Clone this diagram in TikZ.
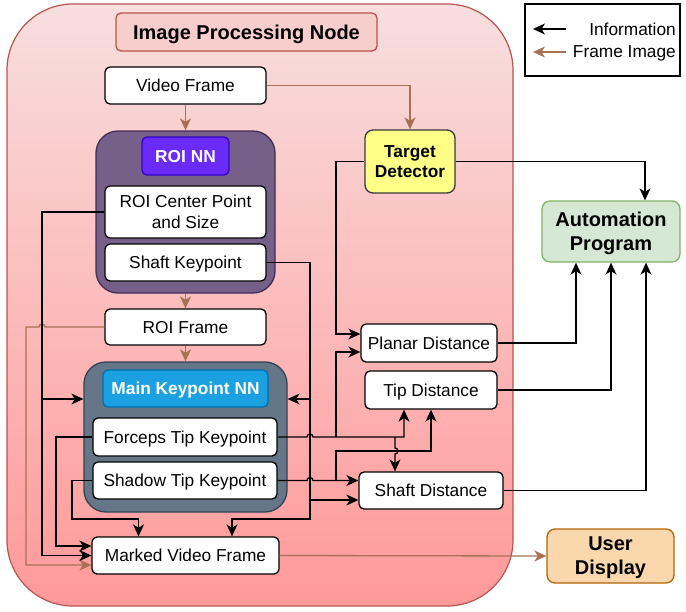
\documentclass[tikz,border=0pt]{standalone}
\usepackage{fontspec}
\setmainfont{Liberation Sans}
\usepackage{tikz}
\usetikzlibrary{arrows.meta, positioning}
\usepackage[dvipsnames, svgnames, x11names]{xcolor}

\definecolor{ipnline}{HTML}{B85450}
\definecolor{ipntop}{HTML}{F8DEDE}
\definecolor{ipnbot}{HTML}{FF9999}
\definecolor{ipntitle}{HTML}{F8CECC}
\definecolor{roifill}{HTML}{76608A}
\definecolor{roiline}{HTML}{432D57}
\definecolor{roilbl}{HTML}{6A2AF8}
\definecolor{roilblline}{HTML}{3700CC}
\definecolor{mainfill}{HTML}{647687}
\definecolor{mainline}{HTML}{314354}
\definecolor{mainlbl}{HTML}{1BA1E2}
\definecolor{mainlblline}{HTML}{006EAF}
\definecolor{tgtfill}{HTML}{FFFF88}
\definecolor{tgtline}{HTML}{36393D}
\definecolor{autofill}{HTML}{D5E8D4}
\definecolor{autoline}{HTML}{82B366}
\definecolor{userfill}{HTML}{FAD7AC}
\definecolor{userline}{HTML}{B46504}
\definecolor{framecol}{RGB}{168,112,84}

\tikzset{
	box/.style={draw=black, fill=white, line width=1.3pt, rounded corners=5pt, align=center, inner sep=0pt, text depth=0pt, font=\fontsize{17.3}{20.8}\selectfont},
	boldbox/.style={box, font=\fontsize{17.3}{20}\selectfont\bfseries},
	bigbox/.style={box, rounded corners=8pt, font=\fontsize{20}{24}\selectfont\bfseries},
	lgtext/.style={anchor=east, inner sep=0pt, text depth=0pt, font=\fontsize{17.3}{20}\selectfont},
	info/.style={draw=black, line width=1.3pt, ->},
	frame/.style={draw=framecol, line width=1.3pt, ->},
}

\begin{document}
\begin{tikzpicture}[x=1pt, y=-1pt, >={Stealth[length=12pt, width=11pt, inset=3.5pt]}]
		\useasboundingbox (0,0) rectangle (686,611);
		
		% 外框
		\node[draw=ipnline, line width=1.2pt, top color=ipntop, bottom color=ipnbot, rounded corners=66pt, minimum width=506pt, minimum height=602pt] (ipn) at (260,305) {};
		\node[bigbox, draw=ipnline, fill=ipntitle, rounded corners=5pt, minimum width=261pt, minimum height=38pt] (ttl) at (246.5,32) {Image Processing Node};
		
		% ROI NN
		\node[box, minimum width=161pt, minimum height=37pt] (vid) at (185.5,85.5) {Video Frame};
		\node[draw=roiline, fill=roifill, line width=1.3pt, rounded corners=22pt, minimum width=179pt, minimum height=162pt] (roinn) at (185.5,212) {};
		\node[boldbox, draw=roilblline, fill=roilbl, text=white, minimum width=87pt, minimum height=38pt] (roilbl) at (185.5,156) {ROI NN};
		\node[box, minimum width=161pt, minimum height=52pt] (roictr) at (185.5,212) {ROI Center Point\\and Size};
		\node[box, minimum width=161pt, minimum height=37pt] (shaftkp) at (185.5,262.5) {Shaft Keypoint};
		\node[box, minimum width=161pt, minimum height=36pt] (roifr) at (185.5,327) {ROI Frame};
		
		% Main Keypoint NN
		\node[draw=mainline, fill=mainfill, line width=1.3pt, rounded corners=22pt, minimum width=203pt, minimum height=150pt] (mainnn) at (185.5,437) {};
		\node[boldbox, draw=mainlblline, fill=mainlbl, text=white, minimum width=165pt, minimum height=37pt] (mainlbl) at (185.5,388.5) {Main Keypoint NN};
		\node[box, minimum width=184pt, minimum height=38pt] (forceps) at (185,437) {Forceps Tip Keypoint};
		\node[box, minimum width=184pt, minimum height=37pt] (shadow) at (185,480.5) {Shadow Tip Keypoint};
		\node[box, minimum width=187pt, minimum height=37pt] (marked) at (185.5,555.5) {Marked Video Frame};
		
		% 右侧
		\node[boldbox, draw=tgtline, fill=tgtfill, rounded corners=8pt, minimum width=90pt, minimum height=63pt] (target) at (410,161.5) {Target\\Detector};
		\node[box, minimum width=136pt, minimum height=38pt] (planar) at (429,343) {Planar Distance};
		\node[box, minimum width=132pt, minimum height=38pt] (tipd) at (431,390) {Tip Distance};
		\node[box, minimum width=144pt, minimum height=37pt] (shaftd) at (431,490.5) {Shaft Distance};
		\node[bigbox, draw=autoline, fill=autofill, minimum width=138pt, minimum height=61pt] (auto) at (611,231.5) {Automation\\Program};
		\node[bigbox, draw=userline, fill=userfill, minimum width=127pt, minimum height=54pt] (user) at (610.5,556) {User\\Display};
		
		% 图例
		\node[draw=black, line width=1.2pt, minimum width=155pt, minimum height=72pt] (lgd) at (602.5,40) {};
		\node[lgtext] (lginfo) at (676,29) {Information};
		\node[lgtext] (lgframe) at (676,52) {Frame Image};
		\coordinate (lgA) at (566,29);
		\coordinate (lgB) at (566,52);
		\draw[info] (lgA) -- ++(-33,0);
		\draw[frame] (lgB) -- ++(-33,0);
		
		% 折线位置
		\coordinate (busF) at (26,0);
		\coordinate (busA) at (42,0);
		\coordinate (busB) at (56,0);
		\coordinate (busS) at (310,0);
		\coordinate (busT) at (336,0);
		\coordinate (lowC) at (72,519);
		\coordinate (lowS) at (310,519);
		\coordinate (cross) at (395,451);
		
		% 图像流
		\draw[frame] (vid.east) -| (target.north);
		\draw[frame] (vid.south) -- (roinn.north);
		\draw[frame] (roinn.south) -- (roifr.north);
		\draw[frame] (roifr.south) -- (mainnn.north);
		\draw[frame] (roifr.west) -- ([xshift=3pt]roifr.west -| busA) arc[start angle=0, end angle=180, radius=3pt] -| ([yshift=-9.5pt]marked.west -| busF) -- ([yshift=-9.5pt]marked.west);
		\draw[frame] (marked.east) -- (user.west);
		
		% 信息流
		\draw[info] (roictr.west) -| (marked.west -| busA) -- (marked.west);
		\draw[info] ([yshift=38pt]mainnn.west -| busA) -- ([yshift=38pt]mainnn.west);
		\draw[info] (shaftkp.east) -| (lowS) -| ([xshift=46.5pt]marked.north);
		\draw[info] ([yshift=38pt]mainnn.east -| busS) -- ([yshift=38pt]mainnn.east);
		\draw[info] ([yshift=-9.5pt]shaftd.west -| busS) -- ([yshift=-9.5pt]shaftd.west);
		\draw[info] (target.west) -| ([yshift=9pt]planar.west -| busT) -- ([yshift=9pt]planar.west);
		\draw[info] (target.east) -| ([xshift=34pt]auto.north);
		\draw[info] (forceps.east) -- ([xshift=-3pt]forceps.east -| busS) arc[start angle=180, end angle=0, radius=3pt] -| ([xshift=-27pt]tipd.south);
		\draw[info] (forceps.east -| busT) |- ([yshift=-9pt]planar.west);
		\draw[info] (forceps.east -| cross) -- ([yshift=3pt]cross) arc[start angle=90, end angle=-90, radius=3pt] -- (shaftd.north -| cross);
		\draw[info] (shadow.east) -- ([xshift=-3pt]shadow.east -| busS) arc[start angle=180, end angle=0, radius=3pt] -- (shaftd.west |- shadow.east);
		\draw[info] (shadow.east -| busT) |- (tipd.south |- cross) -- (tipd.south);
		\draw[info] (forceps.west) -| ([yshift=9.5pt]marked.west -| busB) -- ([yshift=9.5pt]marked.west);
		\draw[info] (shadow.west) -| (lowC) -| ([xshift=-47pt]marked.north);
		\draw[info] (planar.east) -| ([xshift=-35pt]auto.south);
		\draw[info] (tipd.east) -| (auto.south);
		\draw[info] (shaftd.east) -| ([xshift=35pt]auto.south);
	\end{tikzpicture}
\end{document}
